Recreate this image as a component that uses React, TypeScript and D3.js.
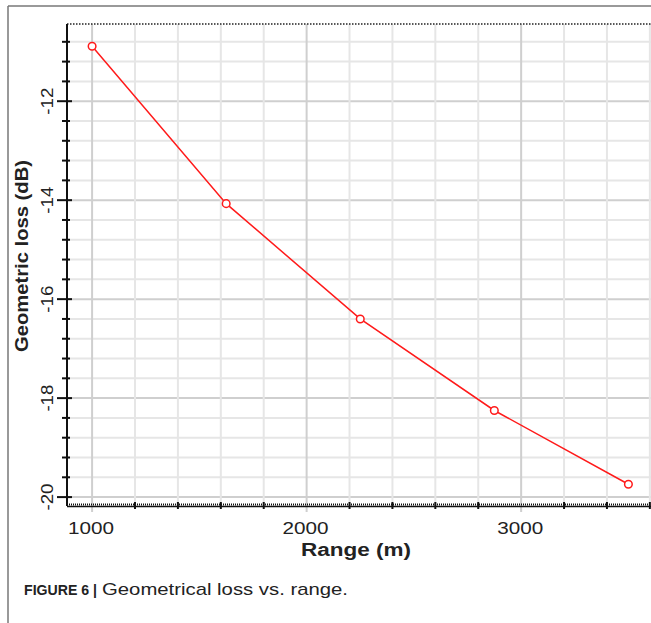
import * as d3 from "d3";

const rangeM = [1000, 1625, 2250, 2875, 3500];
const lossDb = [-10.89, -14.07, -16.4, -18.25, -19.74];
const xTickLabels = [1000, 2000, 3000];
const yTickLabels = [-12, -14, -16, -18, -20];

const W = 651, H = 623;
const left = 67, top = 24, bottom = 506, right = 652;

export default function App() {
  const x = d3.scaleLinear().domain([883, 3610]).range([left, right]);
  const y = d3.scaleLinear().domain([-20.18, -10.44]).range([bottom, top]);

  const xGrid = d3.range(1000, 3601, 200);
  const yGrid = d3.range(0, 24).map(i => -20 + i * 0.4);
  const isMajorX = (v: number) => v % 1000 === 0;
  const isMajorY = (i: number) => i % 5 === 0;

  const line = d3.line<number>()
    .x((_, i) => x(rangeM[i]))
    .y(d => y(d));

  const font = "'Liberation Sans', Arial, sans-serif";

  return (
    <svg width={W} height={H} style={{ position: "absolute", left: 0, top: 0, background: "#fff" }}>
      {/* figure frame */}
      <line x1={8} x2={W} y1={6} y2={6} stroke="#777" strokeWidth={1.5} />
      <line x1={8} x2={8} y1={6} y2={H} stroke="#777" strokeWidth={1.5} />

      {/* grid */}
      {yGrid.map((v, i) => (
        <line key={"hy" + i} x1={left} x2={right} y1={y(v)} y2={y(v)}
          stroke={isMajorY(i) ? "#cfcfcf" : "#e6e6e6"} strokeWidth={2} />
      ))}
      {xGrid.map(v => (
        <line key={"gx" + v} x1={x(v)} x2={x(v)} y1={top} y2={isMajorX(v) ? 512 : bottom}
          stroke={isMajorX(v) ? "#cfcfcf" : "#e6e6e6"} strokeWidth={2} />
      ))}

      {/* top dotted border */}
      <line x1={left} x2={right} y1={top} y2={top} stroke="#222" strokeWidth={1.5} strokeDasharray="1.5 1.5" />

      {/* bottom axis */}
      <line x1={left} x2={right} y1={bottom + 0.5} y2={bottom + 0.5} stroke="#111" strokeWidth={1.5} />
      <line x1={left} x2={right} y1={bottom - 1.5} y2={bottom - 1.5} stroke="#111" strokeWidth={2} strokeDasharray="1 1" />
      {xGrid.filter(v => !isMajorX(v)).map(v => (
        <line key={"tx" + v} x1={x(v)} x2={x(v)} y1={bottom - 4} y2={bottom + 3} stroke="#111" strokeWidth={2} />
      ))}
      {xTickLabels.map(v => (
        <text key={"lx" + v} x={x(v) - 1} y={534} textAnchor="middle" fontFamily={font} fontSize={17}
          fill="#222" textLength={46} lengthAdjust="spacingAndGlyphs">{v}</text>
      ))}
      <text x={356} y={556} textAnchor="middle" fontFamily={font} fontSize={18} fontWeight="bold"
        fill="#222" textLength={110} lengthAdjust="spacingAndGlyphs">Range (m)</text>

      {/* left axis */}
      <line x1={left} x2={left} y1={top} y2={bottom} stroke="#111" strokeWidth={2} />
      {yGrid.map((v, i) => (
        <line key={"ty" + i} x1={isMajorY(i) ? 57 : 62} x2={isMajorY(i) ? 72 : 70} y1={y(v)} y2={y(v)}
          stroke="#111" strokeWidth={2} />
      ))}
      {yTickLabels.map(v => (
        <text key={"ly" + v} transform={`translate(53,${y(v)}) rotate(-90)`} textAnchor="middle"
          fontFamily={font} fontSize={17} fill="#222" textLength={27} lengthAdjust="spacingAndGlyphs">{v}</text>
      ))}
      <text transform={`translate(28,${256}) rotate(-90)`} textAnchor="middle" fontFamily={font}
        fontSize={18} fontWeight="bold" fill="#222" textLength={192} lengthAdjust="spacingAndGlyphs">
        Geometric loss (dB)
      </text>

      {/* series */}
      <path d={line(lossDb) ?? ""} fill="none" stroke="#ff1a1a" strokeWidth={1.5} />
      {lossDb.map((v, i) => (
        <circle key={"p" + i} cx={x(rangeM[i])} cy={y(v)} r={3.8} fill="#fff" stroke="#ff1a1a" strokeWidth={1.5} />
      ))}

      {/* caption */}
      <text x={24} y={595} fontFamily={font} fill="#222">
        <tspan fontSize={15} fontWeight="bold" textLength={73} lengthAdjust="spacingAndGlyphs">FIGURE 6 |</tspan>
        <tspan x={102} fontSize={17} textLength={246} lengthAdjust="spacingAndGlyphs">Geometrical loss vs. range.</tspan>
      </text>
    </svg>
  );
}
